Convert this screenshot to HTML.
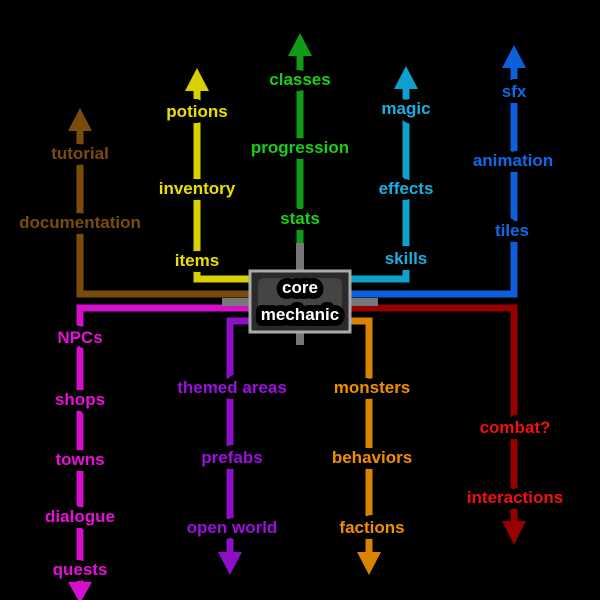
<!DOCTYPE html>
<html><head><style>
html,body{margin:0;padding:0;background:#000;}
svg{display:block}
text{font-family:"Liberation Sans","DejaVu Sans",sans-serif;font-weight:bold;font-size:17px;text-anchor:middle;paint-order:stroke;stroke:#000;stroke-width:12px;stroke-linejoin:round}
</style></head><body>
<svg width="600" height="600" viewBox="0 0 600 600" xmlns="http://www.w3.org/2000/svg">
<rect width="600" height="600" fill="#000"/>
<g fill="none" stroke-width="7" stroke-linejoin="miter">
<polyline points="80,128 80,294 250,294" stroke="#7a4c0c"/>
<polyline points="197,88 197,279 250,279" stroke="#d8d000"/>
<polyline points="300,53 300,270" stroke="#109a18"/>
<polyline points="406,86 406,279 350,279" stroke="#10a0cc"/>
<polyline points="514,66 514,294 350,294" stroke="#0c60dc"/>
<polyline points="250,308 80,308 80,585" stroke="#d410cc"/>
<polyline points="350,308 514,308 514,524" stroke="#960000"/>
<polyline points="250,321 230,321 230,555" stroke="#8c10c8"/>
<polyline points="350,321 369,321 369,555" stroke="#d88400"/>
</g>
<rect x="296" y="243" width="8" height="27" fill="#777"/>
<rect x="296" y="332" width="8" height="13" fill="#777"/>
<rect x="222" y="298" width="28" height="8" fill="#777"/>
<rect x="350" y="298" width="28" height="8" fill="#777"/>
<polygon points="80,108 68,131 92,131" fill="#7a4c0c"/>
<polygon points="197,68 185,91 209,91" fill="#d8d000"/>
<polygon points="300,33 288,56 312,56" fill="#109a18"/>
<polygon points="406,66 394,89 418,89" fill="#10a0cc"/>
<polygon points="514,45 502,68 526,68" fill="#0c60dc"/>
<polygon points="80,603 68,582 92,582" fill="#d410cc"/>
<polygon points="514,545 502,521 526,521" fill="#960000"/>
<polygon points="230,575 218,552 242,552" fill="#8c10c8"/>
<polygon points="369,575 357,552 381,552" fill="#d88400"/>
<rect x="250" y="271" width="100" height="61" fill="#2a2a2a" stroke="#aaa" stroke-width="3"/>
<rect x="258" y="278" width="84" height="47" fill="#444" rx="6"/>
<text x="300" y="293" fill="#fff">core</text>
<text x="300" y="320" fill="#fff">mechanic</text>
<g fill="#7a4c0c"><text x="80" y="159">tutorial</text><text x="80" y="228">documentation</text></g>
<g fill="#e8e000"><text x="197" y="117">potions</text><text x="197" y="194">inventory</text><text x="197" y="266">items</text></g>
<g fill="#18d018"><text x="300" y="85">classes</text><text x="300" y="153">progression</text><text x="300" y="224">stats</text></g>
<g fill="#18b0e0"><text x="406" y="114">magic</text><text x="406" y="194">effects</text><text x="406" y="264">skills</text></g>
<g fill="#1068e8"><text x="514" y="97">sfx</text><text x="513" y="166">animation</text><text x="512" y="236">tiles</text></g>
<g fill="#e810d8"><text x="80" y="343">NPCs</text><text x="80" y="405">shops</text><text x="80" y="465">towns</text><text x="80" y="522">dialogue</text><text x="80" y="575">quests</text></g>
<g fill="#9a10dc"><text x="232" y="393">themed areas</text><text x="232" y="463">prefabs</text><text x="232" y="533">open world</text></g>
<g fill="#f09000"><text x="372" y="393">monsters</text><text x="372" y="463">behaviors</text><text x="372" y="533">factions</text></g>
<g fill="#f01010"><text x="515" y="433">combat?</text><text x="515" y="503">interactions</text></g>
</svg>
</body></html>
